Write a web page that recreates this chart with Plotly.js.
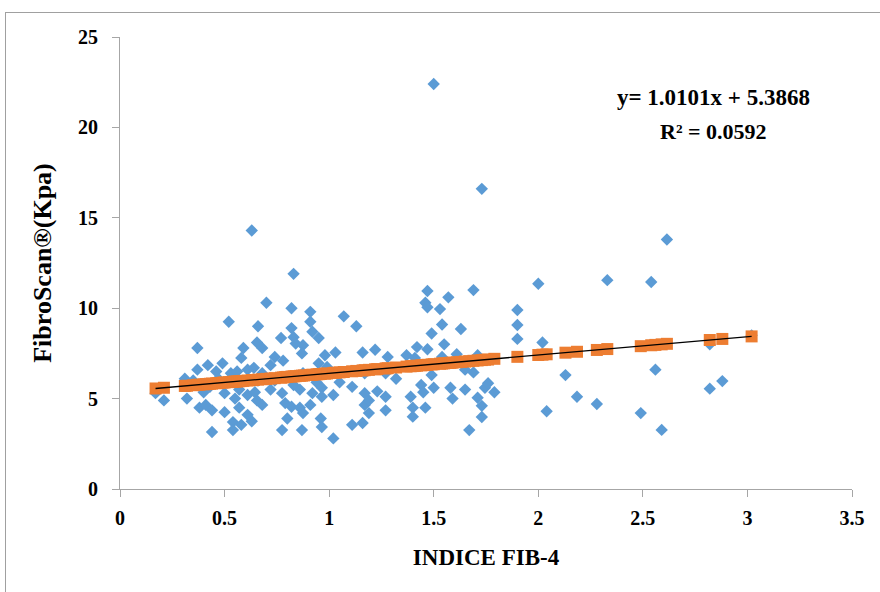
<!DOCTYPE html>
<html>
<head>
<meta charset="utf-8">
<script src="https://cdn.plot.ly/plotly-3.0.1.min.js"></script>
<style>
  html, body { margin: 0; padding: 0; background: #ffffff; overflow: hidden; }
  #frame { position: absolute; left: 5px; top: 12px; width: 900px; height: 620px; border: 1px solid #a0a0a0; box-sizing: border-box; }
  #chart { position: absolute; left: 0; top: 0; width: 880px; height: 592px; }
</style>
</head>
<body>
<div id="frame"></div>
<div id="chart"></div>
<script>
// Observed points: INDICE FIB-4 (x) vs FibroScan kPa (y)
const fib4 = [
  0.17,0.21,0.31,0.32,0.35,0.37,0.37,0.42,0.49,0.46,0.53,0.56,0.61,0.40,0.43,0.50,0.55,0.57,0.61,0.38,
  0.41,0.44,0.50,0.57,0.61,0.54,0.58,0.44,0.54,0.63,0.52,0.59,0.58,0.63,0.47,0.55,
  0.70,0.82,0.91,1.07,0.91,0.66,0.82,0.92,1.13,0.77,0.83,0.95,0.655,0.84,0.875,0.68,0.87,1.03,1.16,1.22,
  0.74,0.78,0.98,0.95,0.99,0.64,0.72,0.68,0.875,1.17,0.66,0.74,0.83,0.94,1.05,1.11,1.17,1.23,0.645,0.72,
  0.775,0.86,0.92,0.965,1.02,0.655,0.68,0.79,0.82,0.86,0.91,0.965,1.17,1.19,0.80,0.875,0.96,0.775,0.87,0.965,
  1.02,1.11,1.16,1.19,0.83,
  1.57,1.46,1.47,1.53,1.54,1.63,1.49,1.55,1.42,1.47,1.28,1.37,1.41,1.54,1.61,1.71,1.27,1.32,1.49,1.65,
  1.69,1.27,1.39,1.44,1.45,1.50,1.58,1.59,1.65,1.71,1.745,1.76,1.79,1.73,1.27,1.40,1.46,1.40,1.73,1.67,
  1.50,1.73,2.615,2.33,2.00,2.54,1.69,1.47,1.90,1.90,1.90,2.02,2.13,2.185,2.28,2.04,2.49,2.56,2.59,2.88,
  2.82,2.82,3.02
];
const fibroscan = [
  5.3,4.9,6.1,5.0,6.0,7.8,6.6,6.85,6.95,6.5,6.4,6.5,6.6,5.35,5.65,5.3,5.0,5.5,5.2,4.5,
  4.65,4.35,4.25,4.5,4.1,3.7,3.55,3.15,3.26,3.75,9.25,7.8,7.25,14.3,6.1,6.0,
  10.3,10.0,9.8,9.55,9.25,9.0,8.9,8.7,9.0,8.35,8.4,8.35,8.1,8.05,7.95,7.8,7.5,7.55,7.55,7.7,
  7.3,7.1,7.4,6.95,6.75,6.7,6.85,6.4,6.4,6.4,6.0,6.0,5.75,5.9,5.9,5.65,5.3,5.4,5.35,5.5,
  5.3,5.5,5.3,5.6,5.2,4.9,4.65,4.75,4.55,4.5,4.65,5.1,4.65,4.9,3.9,4.2,3.9,3.26,3.26,3.43,
  2.8,3.55,3.65,4.2,11.9,
  10.6,10.3,10.05,9.95,9.1,8.85,8.6,8.0,7.85,7.73,7.3,7.4,7.25,7.3,7.45,7.4,6.4,6.1,6.3,6.6,
  6.45,5.1,5.1,5.75,5.35,5.6,5.6,5.0,5.5,5.05,5.6,5.85,5.35,4.6,4.35,4.5,4.5,4.0,3.98,3.26,
  22.4,16.6,13.8,11.55,11.35,11.45,11.0,10.95,9.9,9.07,8.3,8.1,6.3,5.1,4.7,4.3,4.2,6.6,3.27,5.97,
  5.55,8.0,8.5
];

// Predicted values (orange squares)
const predX = [
  0.17,0.21,0.31,0.32,0.35,0.37,0.38,0.40,0.41,0.42,0.43,0.44,0.46,0.47,0.49,0.50,0.52,0.53,0.54,0.55,
  0.56,0.57,0.58,0.59,0.61,0.63,0.64,0.66,0.68,0.70,0.72,0.74,0.77,0.78,0.79,0.80,0.82,0.83,0.84,0.86,
  0.87,0.88,0.91,0.92,0.94,0.95,0.96,0.98,0.99,1.02,1.03,1.05,1.07,1.11,1.13,1.16,1.17,1.19,1.22,1.23,
  1.27,1.28,1.32,1.37,1.39,1.40,1.41,1.42,1.44,1.45,1.46,1.47,1.49,1.50,1.53,1.54,1.55,1.57,1.58,1.59,
  1.61,1.63,1.65,1.67,1.69,1.71,1.73,1.745,1.76,1.79,1.90,2.00,2.02,2.04,2.13,2.185,2.28,2.33,2.49,2.54,
  2.56,2.59,2.615,2.82,2.88,3.02
];
const predY = [
  5.56,5.60,5.70,5.71,5.74,5.76,5.77,5.79,5.80,5.81,5.82,5.83,5.85,5.86,5.88,5.89,5.91,5.92,5.93,5.94,
  5.95,5.96,5.97,5.98,6.00,6.02,6.03,6.05,6.07,6.09,6.11,6.13,6.16,6.17,6.19,6.20,6.22,6.23,6.24,6.26,
  6.27,6.28,6.31,6.32,6.34,6.35,6.36,6.38,6.39,6.42,6.43,6.45,6.47,6.51,6.53,6.56,6.57,6.59,6.62,6.63,
  6.67,6.68,6.72,6.77,6.79,6.80,6.81,6.82,6.84,6.85,6.86,6.87,6.89,6.90,6.93,6.94,6.95,6.97,6.98,6.99,
  7.01,7.03,7.05,7.07,7.09,7.11,7.13,7.15,7.16,7.20,7.31,7.41,7.43,7.45,7.54,7.59,7.69,7.74,7.90,7.95,
  7.97,8.00,8.03,8.24,8.30,8.44
];

// Linear trendline end points
const trendX = [0.17, 3.02];
const trendY = [5.56, 8.44];

const xTicks = [0, 0.5, 1, 1.5, 2, 2.5, 3, 3.5];
const xTickText = ['0', '0.5', '1', '1.5', '2', '2.5', '3', '3.5'];
const yTicks = [0, 5, 10, 15, 20, 25];
const yTickText = ['0', '5', '10', '15', '20', '25'];

const eqText = 'y= 1.0101x + 5.3868';
const r2Text = 'R² = 0.0592';

const serif = 'Liberation Serif, Times New Roman, serif';

const traces = [
  {
    x: fib4, y: fibroscan, type: 'scatter', mode: 'markers',
    marker: { symbol: 'diamond', size: 9.5, color: '#5B9BD5', line: { width: 0 } },
    hoverinfo: 'x+y', showlegend: false
  },
  {
    x: predX, y: predY, type: 'scatter', mode: 'markers',
    marker: { symbol: 'square', size: 12, color: '#ED7D31', line: { width: 0 } },
    hoverinfo: 'x+y', showlegend: false
  },
  {
    x: trendX, y: trendY, type: 'scatter', mode: 'lines',
    line: { color: '#000000', width: 1.3 },
    hoverinfo: 'skip', showlegend: false
  }
];

const layout = {
  width: 880, height: 592,
  paper_bgcolor: 'rgba(0,0,0,0)', plot_bgcolor: 'rgba(0,0,0,0)',
  margin: { l: 120, r: 28, t: 37, b: 103, pad: 0 },
  showlegend: false,
  font: { family: serif, color: '#000000', size: 20, weight: 'bold' },
  xaxis: {
    range: [0, 3.5], tickmode: 'array', tickvals: xTicks, ticktext: xTickText,
    showgrid: false, zeroline: false, showline: true, linecolor: '#a6a6a6', linewidth: 1,
    ticks: 'outside', ticklen: 7, tickcolor: '#a6a6a6', tickwidth: 1,
    tickfont: { family: serif, size: 20, color: '#000000', weight: 'bold' },
    ticklabelstandoff: 4,
    title: { text: 'INDICE FIB-4', font: { family: serif, size: 23, color: '#000000', weight: 'bold' }, standoff: 20 },
    automargin: false, fixedrange: true
  },
  yaxis: {
    range: [0, 25], tickmode: 'array', tickvals: yTicks, ticktext: yTickText,
    showgrid: false, zeroline: false, showline: true, linecolor: '#a6a6a6', linewidth: 1,
    ticks: 'outside', ticklen: 7, tickcolor: '#a6a6a6', tickwidth: 1,
    tickfont: { family: serif, size: 20, color: '#000000', weight: 'bold' },
    ticklabelstandoff: 10,
    title: { text: 'FibroScan®(Kpa)', font: { family: serif, size: 26, color: '#000000', weight: 'bold' }, standoff: 18 },
    automargin: false, fixedrange: true
  },
  annotations: [
    { x: 2.84, y: 21.68, xref: 'x', yref: 'y', text: eqText, showarrow: false,
      font: { family: serif, size: 23, color: '#000000', weight: 'bold' }, xanchor: 'center', yanchor: 'middle' },
    { x: 2.84, y: 19.75, xref: 'x', yref: 'y', text: r2Text, showarrow: false,
      font: { family: serif, size: 22, color: '#000000', weight: 'bold' }, xanchor: 'center', yanchor: 'middle' }
  ]
};

Plotly.newPlot('chart', traces, layout, { displayModeBar: false, staticPlot: true });
</script>
</body>
</html>
